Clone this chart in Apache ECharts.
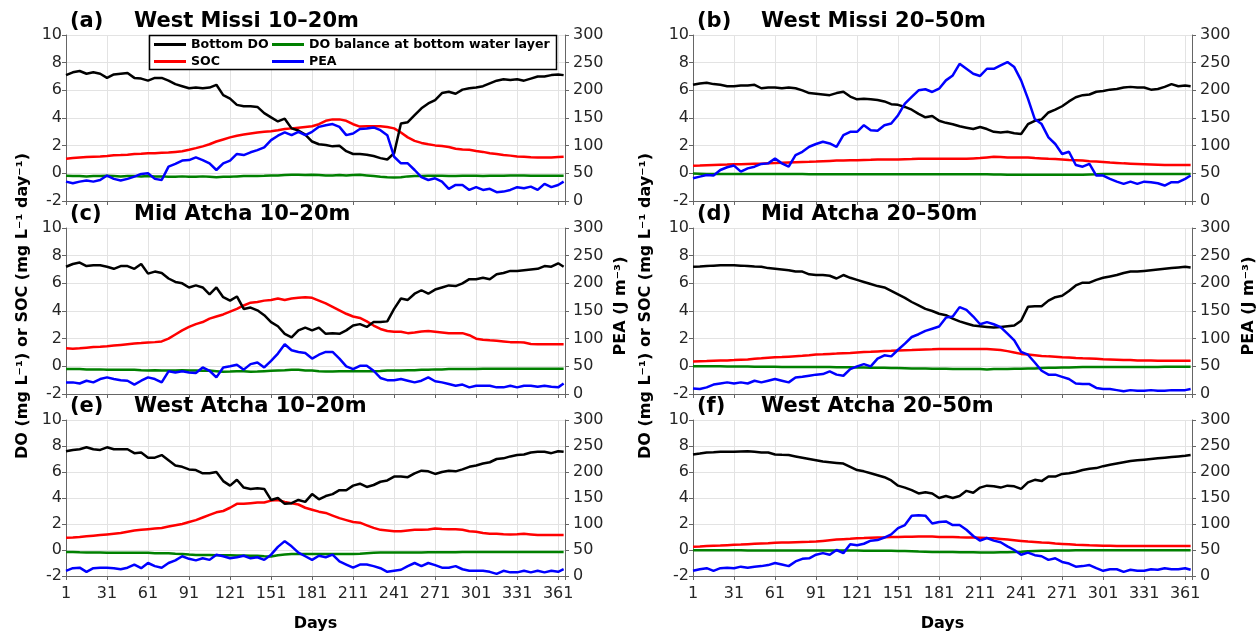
<!DOCTYPE html>
<html>
<head>
<meta charset="utf-8">
<script src="https://cdn.jsdelivr.net/npm/echarts@6/dist/echarts.min.js"></script>
<style>
  html, body { margin: 0; padding: 0; background: #fff; }
  #chart { width: 1258px; height: 633px; }
</style>
</head>
<body>
<div id="chart"></div>
<script>
// sampled days (every 5 days)
const days = [
  1, 6, 11, 16, 21, 26, 31, 36, 41, 46,
  51, 56, 61, 66, 71, 76, 81, 86, 91, 96,
  101, 106, 111, 116, 121, 126, 131, 136, 141, 146,
  151, 156, 161, 166, 171, 176, 181, 186, 191, 196,
  201, 206, 211, 216, 221, 226, 231, 236, 241, 246,
  251, 256, 261, 266, 271, 276, 281, 286, 291, 296,
  301, 306, 311, 316, 321, 326, 331, 336, 341, 346,
  351, 356, 361, 365
]

// (a) West Missi 10-20m
const aDO = [
  7.1, 7.3, 7.4, 7.2, 7.3, 7.2, 6.9, 7.15, 7.2, 7.25,
  6.9, 6.85, 6.7, 6.9, 6.9, 6.7, 6.45, 6.3, 6.15, 6.2,
  6.15, 6.2, 6.4, 5.65, 5.4, 4.95, 4.85, 4.85, 4.8, 4.35,
  4.05, 3.75, 3.95, 3.25, 3.1, 2.8, 2.3, 2.1, 2.05, 1.95,
  2.0, 1.6, 1.4, 1.4, 1.35, 1.25, 1.1, 1.0, 1.45, 3.6,
  3.7, 4.2, 4.7, 5.05, 5.3, 5.8, 5.9, 5.75, 6.05, 6.15,
  6.2, 6.3, 6.5, 6.7, 6.8, 6.75, 6.8, 6.7, 6.85, 7.0,
  7.0, 7.1, 7.15, 7.1
]
const aSOC = [
  1.05, 1.1, 1.15, 1.18, 1.2, 1.22, 1.25, 1.3, 1.32, 1.35,
  1.4, 1.42, 1.45, 1.45, 1.48, 1.5, 1.55, 1.6, 1.7, 1.82,
  1.95, 2.1, 2.3, 2.45, 2.6, 2.72, 2.8, 2.88, 2.95, 3.0,
  3.05, 3.12, 3.2, 3.25, 3.3, 3.35, 3.4, 3.55, 3.8, 3.9,
  3.9, 3.8, 3.55, 3.38, 3.4, 3.4, 3.4, 3.35, 3.25, 2.95,
  2.6, 2.35, 2.2, 2.1, 2.02, 1.98, 1.9, 1.78, 1.72, 1.7,
  1.62, 1.55, 1.45, 1.4, 1.33, 1.28, 1.22, 1.2, 1.17, 1.15,
  1.15, 1.15, 1.18, 1.2
]
const aBAL = [
  -0.18, -0.2, -0.2, -0.22, -0.2, -0.2, -0.18, -0.2, -0.22, -0.2,
  -0.2, -0.22, -0.2, -0.22, -0.22, -0.25, -0.25, -0.22, -0.25, -0.25,
  -0.22, -0.25, -0.28, -0.25, -0.25, -0.22, -0.2, -0.2, -0.2, -0.18,
  -0.15, -0.15, -0.12, -0.1, -0.1, -0.12, -0.1, -0.12, -0.15, -0.15,
  -0.12, -0.15, -0.12, -0.1, -0.15, -0.2, -0.25, -0.28, -0.3, -0.28,
  -0.22, -0.2, -0.2, -0.18, -0.18, -0.18, -0.2, -0.2, -0.18, -0.18,
  -0.18, -0.2, -0.18, -0.18, -0.18, -0.15, -0.15, -0.15, -0.18, -0.18,
  -0.18, -0.18, -0.18, -0.18
]
const aPEA = [
  35, 32, 35, 37, 35, 38, 46, 40, 37, 40,
  44, 49, 50, 40, 38, 62, 67, 73, 74, 79,
  74, 68, 56, 68, 73, 85, 83, 88, 92, 97,
  110, 118, 124, 119, 125, 119, 125, 134, 137, 139,
  134, 119, 122, 130, 131, 133, 128, 119, 80, 68,
  68, 56, 43, 38, 41, 35, 22, 29, 29, 20,
  25, 20, 22, 16, 17, 20, 25, 23, 26, 20,
  31, 25, 29, 35
]

// (b) West Missi 20-50m
const bDO = [
  6.4, 6.5, 6.55, 6.45, 6.4, 6.3, 6.3, 6.35, 6.35, 6.4,
  6.15, 6.2, 6.2, 6.15, 6.2, 6.15, 6.0, 5.8, 5.75, 5.7,
  5.65, 5.8, 5.9, 5.55, 5.35, 5.4, 5.35, 5.3, 5.2, 5.0,
  4.95, 4.8, 4.6, 4.3, 4.05, 4.15, 3.8, 3.65, 3.55, 3.4,
  3.3, 3.2, 3.35, 3.2, 3.0, 2.95, 3.0, 2.9, 2.85, 3.55,
  3.8, 3.9, 4.4, 4.6, 4.85, 5.2, 5.5, 5.65, 5.7, 5.9,
  5.95, 6.05, 6.1, 6.2, 6.25, 6.2, 6.2, 6.05, 6.1, 6.25,
  6.45, 6.3, 6.35, 6.3
]
const bSOC = [
  0.55, 0.56, 0.58, 0.6, 0.62, 0.63, 0.65, 0.66, 0.68, 0.7,
  0.7, 0.72, 0.75, 0.76, 0.78, 0.8, 0.82, 0.83, 0.85, 0.88,
  0.9, 0.92, 0.93, 0.95, 0.95, 0.97, 0.98, 1.0, 1.0, 1.0,
  1.0, 1.02, 1.03, 1.05, 1.05, 1.05, 1.05, 1.05, 1.05, 1.05,
  1.05, 1.08, 1.1, 1.15, 1.2, 1.18, 1.15, 1.15, 1.15, 1.15,
  1.1, 1.08, 1.05, 1.03, 1.0, 0.97, 0.95, 0.92, 0.88, 0.85,
  0.82, 0.78, 0.75, 0.72, 0.7, 0.68, 0.66, 0.64, 0.62, 0.6,
  0.6, 0.6, 0.6, 0.6
]
const bBAL = [
  -0.02, -0.03, -0.05, -0.05, -0.05, -0.05, -0.05, -0.05, -0.05, -0.05,
  -0.05, -0.05, -0.05, -0.05, -0.05, -0.05, -0.05, -0.06, -0.06, -0.06,
  -0.06, -0.06, -0.06, -0.06, -0.06, -0.06, -0.07, -0.07, -0.07, -0.07,
  -0.07, -0.07, -0.07, -0.07, -0.07, -0.07, -0.07, -0.07, -0.07, -0.07,
  -0.07, -0.07, -0.07, -0.07, -0.08, -0.08, -0.1, -0.1, -0.1, -0.1,
  -0.1, -0.1, -0.1, -0.1, -0.1, -0.1, -0.1, -0.1, -0.08, -0.07,
  -0.05, -0.05, -0.05, -0.05, -0.05, -0.05, -0.05, -0.05, -0.05, -0.05,
  -0.05, -0.05, -0.05, -0.05
]
const bPEA = [
  41, 44, 47, 46, 56, 61, 64, 53, 59, 62,
  67, 68, 77, 68, 62, 83, 89, 98, 103, 107,
  104, 98, 119, 125, 125, 137, 128, 127, 137, 140,
  155, 176, 188, 200, 202, 197, 203, 218, 227, 248,
  239, 230, 226, 239, 239, 245, 251, 242, 218, 185,
  148, 139, 115, 103, 85, 89, 65, 62, 67, 46,
  46, 40, 35, 31, 35, 31, 35, 34, 32, 28,
  34, 34, 40, 46
]

// (c) Mid Atcha 10-20m
const cDO = [
  7.2, 7.4, 7.5, 7.25, 7.3, 7.3, 7.2, 7.05, 7.25, 7.25,
  7.05, 7.4, 6.7, 6.85, 6.75, 6.35, 6.1, 6.0, 5.7, 5.85,
  5.7, 5.2, 5.7, 5.0, 4.75, 5.05, 4.15, 4.25, 4.05, 3.7,
  3.2, 2.9, 2.35, 2.1, 2.6, 2.8, 2.6, 2.8, 2.35, 2.4,
  2.35, 2.6, 2.95, 3.05, 2.85, 3.2, 3.2, 3.25, 4.15, 4.9,
  4.8, 5.25, 5.5, 5.25, 5.55, 5.7, 5.85, 5.8, 6.0, 6.3,
  6.3, 6.4, 6.3, 6.65, 6.75, 6.9, 6.9, 6.95, 7.0, 7.05,
  7.25, 7.2, 7.45, 7.2
]
const cSOC = [
  1.3, 1.28, 1.3, 1.35, 1.4, 1.42, 1.45, 1.5, 1.55, 1.6,
  1.65, 1.68, 1.72, 1.75, 1.8, 2.0, 2.3, 2.6, 2.85, 3.05,
  3.2, 3.45, 3.6, 3.75, 3.95, 4.15, 4.4, 4.6, 4.65, 4.75,
  4.8, 4.9, 4.8, 4.9, 4.95, 5.0, 4.95, 4.75, 4.55, 4.3,
  4.05, 3.8, 3.6, 3.5, 3.25, 2.95, 2.7, 2.55, 2.5, 2.5,
  2.4, 2.45, 2.52, 2.55, 2.5, 2.45, 2.4, 2.4, 2.4, 2.25,
  2.0, 1.92, 1.88, 1.85, 1.8, 1.75, 1.75, 1.72, 1.62, 1.6,
  1.6, 1.6, 1.6, 1.6
]
const cBAL = [
  -0.2, -0.2, -0.2, -0.22, -0.22, -0.22, -0.25, -0.25, -0.25, -0.25,
  -0.25, -0.28, -0.3, -0.28, -0.3, -0.3, -0.3, -0.28, -0.3, -0.3,
  -0.32, -0.3, -0.35, -0.4, -0.38, -0.35, -0.35, -0.4, -0.38, -0.35,
  -0.32, -0.3, -0.28, -0.25, -0.25, -0.3, -0.3, -0.35, -0.38, -0.38,
  -0.35, -0.35, -0.35, -0.35, -0.35, -0.35, -0.33, -0.3, -0.3, -0.3,
  -0.28, -0.28, -0.25, -0.25, -0.22, -0.22, -0.2, -0.2, -0.2, -0.2,
  -0.2, -0.18, -0.18, -0.18, -0.18, -0.18, -0.18, -0.18, -0.18, -0.18,
  -0.18, -0.18, -0.18, -0.18
]
const cPEA = [
  21, 21, 19, 24, 21, 27, 30, 27, 25, 24,
  17, 24, 30, 27, 21, 41, 39, 41, 39, 38,
  48, 42, 30, 48, 50, 53, 44, 54, 57, 48,
  60, 73, 90, 79, 76, 74, 64, 71, 76, 76,
  64, 50, 45, 51, 51, 42, 29, 25, 25, 27,
  24, 21, 24, 30, 23, 21, 18, 15, 17, 12,
  15, 15, 15, 12, 12, 15, 12, 15, 15, 13,
  15, 13, 12, 19
]

// (d) Mid Atcha 20-50m
const dDO = [
  7.2, 7.22, 7.25, 7.28, 7.3, 7.3, 7.3, 7.28, 7.25, 7.22,
  7.2, 7.1, 7.05, 7.0, 6.95, 6.85, 6.85, 6.65, 6.6, 6.6,
  6.55, 6.35, 6.6, 6.4, 6.25, 6.1, 5.95, 5.8, 5.7, 5.45,
  5.2, 4.95, 4.65, 4.4, 4.15, 4.0, 3.8, 3.7, 3.45, 3.25,
  3.1, 2.95, 2.9, 2.85, 2.8, 2.85, 2.9, 2.95, 3.3, 4.3,
  4.35, 4.35, 4.75, 5.0, 5.1, 5.45, 5.85, 6.05, 6.05, 6.25,
  6.4, 6.5, 6.6, 6.75, 6.85, 6.85, 6.9, 6.95, 7.0, 7.05,
  7.1, 7.15, 7.2, 7.15
]
const dSOC = [
  0.35, 0.37, 0.38, 0.4, 0.42, 0.43, 0.45, 0.48, 0.5, 0.55,
  0.58, 0.62, 0.65, 0.67, 0.7, 0.73, 0.76, 0.8, 0.85, 0.87,
  0.9, 0.92, 0.95, 0.97, 1.0, 1.03, 1.05, 1.08, 1.1, 1.12,
  1.15, 1.17, 1.18, 1.2, 1.22, 1.23, 1.25, 1.25, 1.25, 1.25,
  1.25, 1.25, 1.25, 1.25, 1.22, 1.18, 1.1, 1.0, 0.9, 0.85,
  0.8, 0.75, 0.72, 0.7, 0.65, 0.63, 0.6, 0.58, 0.57, 0.55,
  0.52, 0.5, 0.48, 0.45, 0.45, 0.43, 0.42, 0.42, 0.4, 0.4,
  0.4, 0.4, 0.4, 0.4
]
const dBAL = [
  0.0, 0.0, 0.0, 0.0, 0.0, -0.02, -0.02, -0.02, -0.02, -0.03,
  -0.03, -0.03, -0.03, -0.04, -0.04, -0.04, -0.05, -0.05, -0.05, -0.05,
  -0.05, -0.06, -0.06, -0.07, -0.08, -0.08, -0.1, -0.1, -0.1, -0.12,
  -0.12, -0.13, -0.15, -0.15, -0.15, -0.17, -0.18, -0.18, -0.2, -0.2,
  -0.2, -0.2, -0.2, -0.22, -0.2, -0.2, -0.2, -0.18, -0.18, -0.15,
  -0.15, -0.12, -0.1, -0.1, -0.08, -0.08, -0.06, -0.05, -0.05, -0.05,
  -0.05, -0.05, -0.05, -0.05, -0.05, -0.04, -0.04, -0.04, -0.04, -0.03,
  -0.03, -0.03, -0.03, -0.03
]
const dPEA = [
  10, 9, 12, 17, 19, 21, 19, 21, 19, 24,
  21, 24, 27, 24, 21, 30, 31, 33, 35, 36,
  41, 35, 33, 45, 50, 54, 50, 64, 70, 68,
  80, 91, 103, 108, 114, 118, 122, 138, 140, 157,
  152, 140, 126, 130, 126, 121, 109, 97, 76, 71,
  57, 42, 35, 35, 31, 27, 19, 18, 18, 11,
  9, 9, 7, 5, 7, 6, 6, 7, 6, 6,
  7, 7, 7, 9
]

// (e) West Atcha 10-20m
const eDO = [
  7.6, 7.7, 7.75, 7.9, 7.75, 7.7, 7.9, 7.75, 7.75, 7.75,
  7.45, 7.5, 7.1, 7.1, 7.3, 6.9, 6.5, 6.4, 6.2, 6.15,
  5.9, 5.9, 6.0, 5.3, 4.95, 5.4, 4.8, 4.7, 4.75, 4.7,
  3.85, 4.0, 3.55, 3.6, 3.85, 3.7, 4.3, 3.9, 4.15, 4.3,
  4.6, 4.6, 4.95, 5.1, 4.85, 5.0, 5.25, 5.35, 5.65, 5.65,
  5.6, 5.9, 6.1, 6.05, 5.85, 6.0, 6.1, 6.05, 6.2, 6.4,
  6.5, 6.65, 6.75, 7.0, 7.05, 7.2, 7.3, 7.35, 7.5, 7.55,
  7.55, 7.45, 7.6, 7.55
]
const eSOC = [
  0.95, 0.97, 1.0, 1.05, 1.1, 1.15, 1.2, 1.25, 1.3, 1.4,
  1.5, 1.55, 1.6, 1.65, 1.7, 1.8, 1.9, 2.0, 2.15, 2.3,
  2.5, 2.7, 2.9, 3.0, 3.25, 3.55, 3.55, 3.6, 3.65, 3.65,
  3.8, 3.85, 3.7, 3.6, 3.5, 3.25, 3.1, 2.95, 2.85, 2.65,
  2.45, 2.3, 2.15, 2.1, 1.9, 1.7, 1.55, 1.5, 1.45, 1.45,
  1.5, 1.55, 1.55, 1.58, 1.65, 1.62, 1.6, 1.6, 1.55, 1.45,
  1.4, 1.3, 1.25, 1.25, 1.22, 1.2, 1.22, 1.25, 1.2, 1.15,
  1.15, 1.15, 1.15, 1.15
]
const eBAL = [
  -0.15, -0.15, -0.18, -0.2, -0.2, -0.2, -0.22, -0.22, -0.22, -0.22,
  -0.22, -0.22, -0.22, -0.25, -0.25, -0.25, -0.28, -0.3, -0.35, -0.38,
  -0.38, -0.38, -0.4, -0.4, -0.4, -0.42, -0.42, -0.45, -0.45, -0.48,
  -0.5, -0.4, -0.35, -0.3, -0.3, -0.3, -0.3, -0.3, -0.3, -0.3,
  -0.3, -0.3, -0.3, -0.28, -0.25, -0.22, -0.2, -0.2, -0.2, -0.2,
  -0.2, -0.2, -0.2, -0.18, -0.18, -0.18, -0.18, -0.18, -0.15, -0.15,
  -0.15, -0.15, -0.15, -0.15, -0.15, -0.15, -0.15, -0.15, -0.15, -0.15,
  -0.15, -0.15, -0.15, -0.15
]
const ePEA = [
  10, 15, 16, 8, 15, 16, 16, 15, 13, 16,
  22, 15, 25, 19, 16, 25, 30, 38, 33, 30,
  34, 31, 41, 38, 34, 36, 39, 34, 36, 31,
  41, 56, 67, 57, 45, 38, 31, 39, 36, 41,
  28, 22, 16, 22, 22, 19, 15, 8, 10, 12,
  19, 25, 19, 25, 21, 16, 16, 19, 13, 10,
  10, 10, 8, 4, 10, 7, 7, 10, 7, 10,
  7, 10, 8, 13
]

// (f) West Atcha 20-50m
const fDO = [
  7.35, 7.42, 7.5, 7.52, 7.55, 7.55, 7.55, 7.58, 7.6, 7.55,
  7.5, 7.5, 7.35, 7.32, 7.3, 7.2, 7.1, 7.0, 6.9, 6.8,
  6.75, 6.7, 6.65, 6.4, 6.15, 6.05, 5.9, 5.75, 5.6, 5.35,
  4.95, 4.8, 4.6, 4.35, 4.45, 4.35, 4.0, 4.15, 4.0, 4.15,
  4.55, 4.4, 4.8, 4.95, 4.9, 4.8, 4.95, 4.9, 4.7, 5.2,
  5.4, 5.3, 5.65, 5.65, 5.85, 5.9, 6.0, 6.15, 6.25, 6.3,
  6.45, 6.55, 6.65, 6.75, 6.85, 6.9, 6.95, 7.0, 7.05, 7.1,
  7.15, 7.2, 7.25, 7.3
]
const fSOC = [
  0.25, 0.27, 0.3, 0.32, 0.34, 0.37, 0.4, 0.42, 0.45, 0.48,
  0.5, 0.52, 0.55, 0.57, 0.58, 0.6, 0.62, 0.63, 0.65, 0.7,
  0.75, 0.8, 0.83, 0.86, 0.9, 0.92, 0.95, 0.97, 0.98, 1.0,
  1.0, 1.02, 1.02, 1.03, 1.03, 1.03, 1.0, 1.0, 1.0, 0.98,
  0.97, 0.96, 0.95, 0.92, 0.9, 0.85, 0.8, 0.75, 0.7, 0.65,
  0.62, 0.58, 0.55, 0.5, 0.47, 0.44, 0.4, 0.38, 0.36, 0.35,
  0.33, 0.32, 0.3, 0.3, 0.3, 0.3, 0.3, 0.3, 0.3, 0.3,
  0.3, 0.3, 0.3, 0.3
]
const fBAL = [
  -0.02, -0.02, -0.02, -0.02, -0.02, -0.02, -0.02, -0.02, -0.03, -0.03,
  -0.03, -0.03, -0.03, -0.03, -0.03, -0.03, -0.03, -0.03, -0.03, -0.03,
  -0.03, -0.03, -0.03, -0.03, -0.03, -0.05, -0.05, -0.05, -0.05, -0.06,
  -0.07, -0.08, -0.1, -0.12, -0.13, -0.15, -0.15, -0.15, -0.16, -0.17,
  -0.18, -0.18, -0.2, -0.2, -0.2, -0.18, -0.17, -0.15, -0.13, -0.1,
  -0.08, -0.06, -0.05, -0.04, -0.03, -0.03, -0.02, -0.02, -0.02, -0.02,
  -0.02, -0.02, -0.02, -0.02, -0.02, -0.02, -0.02, -0.02, -0.02, -0.02,
  -0.02, -0.02, -0.02, -0.02
]
const fPEA = [
  10, 13, 15, 10, 15, 16, 15, 18, 16, 18,
  19, 21, 25, 22, 19, 28, 33, 34, 41, 44,
  41, 50, 44, 61, 59, 62, 68, 69, 74, 80,
  92, 98, 116, 117, 116, 101, 104, 105, 98, 98,
  89, 77, 68, 73, 68, 65, 57, 50, 41, 45,
  40, 38, 31, 34, 27, 24, 18, 19, 21, 15,
  10, 13, 13, 8, 12, 10, 10, 13, 12, 15,
  13, 13, 15, 12
]

const panels = [
  { tag: '(a)', title: 'West Missi 10–20m', col: 0, row: 0, DO: aDO, SOC: aSOC, BAL: aBAL, PEA: aPEA },
  { tag: '(b)', title: 'West Missi 20–50m', col: 1, row: 0, DO: bDO, SOC: bSOC, BAL: bBAL, PEA: bPEA },
  { tag: '(c)', title: 'Mid Atcha 10–20m', col: 0, row: 1, DO: cDO, SOC: cSOC, BAL: cBAL, PEA: cPEA },
  { tag: '(d)', title: 'Mid Atcha 20–50m', col: 1, row: 1, DO: dDO, SOC: dSOC, BAL: dBAL, PEA: dPEA },
  { tag: '(e)', title: 'West Atcha 10–20m', col: 0, row: 2, DO: eDO, SOC: eSOC, BAL: eBAL, PEA: ePEA },
  { tag: '(f)', title: 'West Atcha 20–50m', col: 1, row: 2, DO: fDO, SOC: fSOC, BAL: fBAL, PEA: fPEA }
]

const colLeft = [66, 693]
const rowTop = [35, 228, 420]
const gridW = 499
const gridH = 166
const FONT = 'DejaVu Sans'
const tickColor = '#262626'
const axisColor = '#666'
const gridColor = '#e3e3e3'

// x is stored as day - 1 so the ticks 1, 31, 61 ... fall on multiples of 30
function pairs(vals) {
  return vals.map((v, i) => [days[i] - 1, v])
}

const grid = []
const xAxis = []
const yAxis = []
const series = []
const graphic = []

panels.forEach((p, k) => {
  const left = colLeft[p.col]
  const top = rowTop[p.row]
  const bottomRow = p.row === 2
  grid.push({ left: left, top: top, width: gridW, height: gridH })
  xAxis.push({
    gridIndex: k,
    type: 'value',
    min: 0,
    max: 365,
    interval: 30,
    name: bottomRow ? 'Days' : '',
    nameLocation: 'middle',
    nameGap: 40,
    nameTextStyle: { fontFamily: FONT, fontWeight: 'bold', fontSize: 16, color: '#000' },
    axisLine: { show: true, onZero: false, lineStyle: { color: axisColor, width: 1 } },
    axisTick: { show: true, length: 4, lineStyle: { color: axisColor } },
    axisLabel: {
      show: bottomRow,
      margin: 10,
      fontFamily: FONT,
      fontSize: 16,
      color: tickColor,
      formatter: v => (v > 360 ? '' : String(v + 1))
    },
    splitLine: { show: true, lineStyle: { color: gridColor, width: 1 } }
  })
  yAxis.push({
    gridIndex: k,
    type: 'value',
    min: -2,
    max: 10,
    interval: 2,
    axisLine: { show: true, lineStyle: { color: axisColor, width: 1 } },
    axisTick: { show: true, length: 4, lineStyle: { color: axisColor } },
    axisLabel: { margin: 4, fontFamily: FONT, fontSize: 16, color: tickColor },
    splitLine: { show: true, lineStyle: { color: gridColor, width: 1 } }
  })
  yAxis.push({
    gridIndex: k,
    type: 'value',
    position: 'right',
    min: 0,
    max: 300,
    interval: 50,
    axisLine: { show: true, lineStyle: { color: axisColor, width: 1 } },
    axisTick: { show: true, length: 4, lineStyle: { color: axisColor } },
    axisLabel: { margin: 8, fontFamily: FONT, fontSize: 16, color: tickColor },
    splitLine: { show: false }
  })

  const line = (name, data, color, yIdx) => ({
    name: name,
    type: 'line',
    xAxisIndex: k,
    yAxisIndex: yIdx,
    data: pairs(data),
    showSymbol: false,
    symbol: 'none',
    lineStyle: { color: color, width: 2.5 },
    itemStyle: { color: color }
  })
  series.push(line('DO balance at bottom water layer', p.BAL, '#008000', 2 * k))
  series.push(line('SOC', p.SOC, '#ff0000', 2 * k))
  series.push(line('Bottom DO', p.DO, '#000000', 2 * k))
  series.push(line('PEA', p.PEA, '#0000ff', 2 * k + 1))

  graphic.push({
    type: 'text', left: left + 4, top: top - 24, z: 10,
    style: { text: p.tag, font: 'bold 21px "DejaVu Sans"', fill: '#000' }
  })
  graphic.push({
    type: 'text', left: left + 68, top: top - 24, z: 10,
    style: { text: p.title, font: 'bold 21px "DejaVu Sans"', fill: '#000' }
  })
})

// vertical axis titles
const doLabel = 'DO (mg L⁻¹) or SOC (mg L⁻¹ day⁻¹)'
const peaLabel = 'PEA (J m⁻³)'
;[[23, doLabel], [621, peaLabel], [646, doLabel], [1249, peaLabel]].forEach(([x, t]) => {
  graphic.push({
    type: 'text', x: x, y: 306, rotation: Math.PI / 2, z: 10,
    style: { text: t, font: 'bold 16px "DejaVu Sans"', fill: '#000', align: 'center', verticalAlign: 'middle' }
  })
})

// legend frame in panel (a)
graphic.push({
  type: 'rect', z: 3,
  shape: { x: 149.5, y: 35.5, width: 407, height: 34 },
  style: { fill: '#fff', stroke: '#000', lineWidth: 1.5 }
})

const legendBase = {
  orient: 'vertical',
  top: 37,
  padding: 0,
  itemWidth: 32,
  itemHeight: 3,
  itemGap: 2,
  icon: 'rect',
  z: 5,
  textStyle: { fontFamily: FONT, fontWeight: 'bold', fontSize: 12.6, color: '#000', lineHeight: 15 }
}

const option = {
  animation: false,
  backgroundColor: '#fff',
  textStyle: { fontFamily: FONT },
  grid: grid,
  xAxis: xAxis,
  yAxis: yAxis,
  legend: [
    Object.assign({}, legendBase, { left: 154, data: ['Bottom DO', 'SOC'] }),
    Object.assign({}, legendBase, { left: 272, data: ['DO balance at bottom water layer', 'PEA'] })
  ],
  graphic: graphic,
  series: series
}

const chart = echarts.init(document.getElementById('chart'))
chart.setOption(option)
window.addEventListener('resize', function() {
  chart.resize()
})
</script>
</body>
</html>
